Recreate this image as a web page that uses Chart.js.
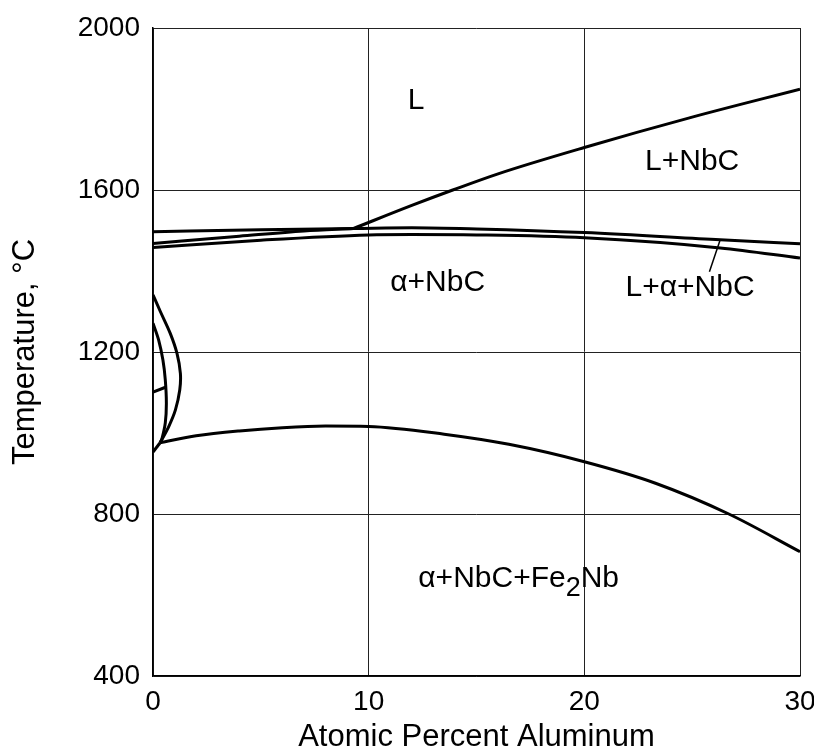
<!DOCTYPE html>
<html>
<head>
<meta charset="utf-8">
<script src="https://cdn.jsdelivr.net/npm/chart.js@4.4.1/dist/chart.umd.min.js"></script>
<style>
  html, body { margin: 0; padding: 0; background: #fff; }
  #wrap { width: 814px; height: 755px; }
</style>
</head>
<body>
<div id="wrap"><canvas id="phaseChart" width="814" height="755"></canvas></div>
<script>
// axis ticks
const xTicks = [0, 10, 20, 30];
const yTicks = [400, 800, 1200, 1600, 2000];

// boundary lines (at.% Al, deg C)
const liquidusAl = [9.3, 12, 13.9, 16, 20, 25, 30];
const liquidusT = [1505, 1562, 1600, 1640, 1705, 1780, 1849];

const risingAl = [0, 4, 7, 9.3];
const risingT = [1468, 1486, 1499, 1505];

const upperAl = [0, 5, 9.3, 12, 15, 20, 26.3, 30];
const upperT = [1497, 1502, 1505, 1507, 1504, 1495, 1477, 1467];

const lowerAl = [0, 5, 10, 12, 15, 20, 26.3, 30];
const lowerT = [1458, 1476, 1489, 1490, 1489, 1482, 1457, 1432];

const fe2nbAl = [0.33, 2, 4, 6, 8, 10, 13.5, 16.5, 20, 23.3, 26.7, 30];
const fe2nbT = [976, 993, 1005, 1013, 1017, 1016, 997, 972, 929, 876, 800, 707];

const cornerAl = [0, 0.33];
const cornerT = [953, 976];

const outerAl = [0, 0.34, 0.8, 1.11, 1.27, 1.24, 1.04, 0.73, 0.33];
const outerT = [1341, 1300, 1246, 1197, 1147, 1106, 1057, 1016, 976];

const innerAl = [0, 0.26, 0.46, 0.57, 0.62, 0.57, 0.42, 0.33];
const innerT = [1271, 1230, 1180, 1131, 1073, 1025, 987, 976];

const shortAl = [0, 0.58];
const shortT = [1101, 1113];

const leaderAl = [26.3, 25.8];
const leaderT = [1477, 1398];

// phase field names
const regionNames = ["L", "L+NbC", "α+NbC", "L+α+NbC"];
const regionAl = [12.2, 25.0, 13.2, 24.9];
const regionT = [1820, 1669, 1370, 1358];

const FONT = "'Liberation Sans', Arial, sans-serif";

function pts(xs, ys) {
  return xs.map((x, i) => ({ x: x, y: ys[i] }));
}

function curve(xs, ys, tension, mode) {
  return {
    data: pts(xs, ys),
    showLine: true,
    borderColor: "#000",
    borderWidth: 3,
    pointRadius: 0,
    tension: tension,
    cubicInterpolationMode: mode || "default",
    fill: false,
  };
}

const labelPlugin = {
  id: "regionLabels",
  afterDatasetsDraw(chart) {
    const ctx = chart.ctx;
    const xs = chart.scales.x;
    const ys = chart.scales.y;
    ctx.save();
    ctx.fillStyle = "#000";
    ctx.font = "30px " + FONT;
    ctx.textAlign = "center";
    ctx.textBaseline = "middle";
    regionNames.forEach((name, i) => {
      ctx.fillText(name, xs.getPixelForValue(regionAl[i]), ys.getPixelForValue(regionT[i]));
    });
    // α+NbC+Fe2Nb with the subscript
    ctx.textAlign = "left";
    ctx.textBaseline = "alphabetic";
    let px = xs.getPixelForValue(12.3);
    const py = ys.getPixelForValue(620);
    const main = "α+NbC+Fe";
    ctx.fillText(main, px, py);
    px += ctx.measureText(main).width;
    ctx.font = "27px " + FONT;
    ctx.fillText("2", px, py + 9);
    px += ctx.measureText("2").width;
    ctx.font = "30px " + FONT;
    ctx.fillText("Nb", px, py);
    ctx.restore();
  },
};

const ctx = document.getElementById("phaseChart").getContext("2d");
const chart = new Chart(ctx, {
  type: "scatter",
  data: {
    datasets: [
      curve(liquidusAl, liquidusT, 0.4, "monotone"),
      curve(risingAl, risingT, 0.4, "monotone"),
      curve(upperAl, upperT, 0.4, "monotone"),
      curve(lowerAl, lowerT, 0.4, "monotone"),
      curve(fe2nbAl, fe2nbT, 0.4, "monotone"),
      curve(cornerAl, cornerT, 0),
      curve(outerAl, outerT, 0.35),
      curve(innerAl, innerT, 0.35),
      curve(shortAl, shortT, 0),
      Object.assign(curve(leaderAl, leaderT, 0), { borderWidth: 1.5 }),
    ],
  },
  options: {
    responsive: false,
    animation: false,
    layout: { padding: { left: 0, right: 14, top: 28, bottom: 0 } },
    plugins: {
      legend: { display: false },
      tooltip: { enabled: false },
    },
    scales: {
      x: {
        type: "linear",
        min: 0,
        max: 30,
        afterFit: (scale) => {
          scale.height = 79;
          scale.paddingLeft = 0;
          scale.paddingRight = 0;
        },
        afterBuildTicks: (scale) => { scale.ticks = xTicks.map((v) => ({ value: v })); },
        ticks: {
          color: "#000",
          padding: 9,
          maxRotation: 0,
          callback: (v) => String(v),
          font: { family: FONT, size: 28 },
        },
        grid: { color: "#222", lineWidth: 1, drawTicks: false },
        border: { color: "#000", width: 1.5 },
        title: {
          display: true,
          text: "Atomic Percent Aluminum",
          color: "#000",
          padding: { top: 0, bottom: 2 },
          font: { family: FONT, size: 31, lineHeight: 1 },
        },
      },
      y: {
        type: "linear",
        min: 400,
        max: 2000,
        afterFit: (scale) => {
          scale.width = 153;
          scale.paddingTop = 0;
          scale.paddingBottom = 0;
        },
        afterBuildTicks: (scale) => { scale.ticks = yTicks.map((v) => ({ value: v })); },
        ticks: {
          color: "#000",
          padding: 13,
          callback: (v) => String(v),
          font: { family: FONT, size: 28 },
        },
        grid: { color: "#222", lineWidth: 1, drawTicks: false },
        border: { color: "#000", width: 1.5 },
        title: {
          display: true,
          text: "Temperature, °C",
          color: "#000",
          padding: { top: 10, bottom: 0 },
          font: { family: FONT, size: 31, lineHeight: 1 },
        },
      },
    },
  },
  plugins: [labelPlugin],
});
</script>
</body>
</html>
